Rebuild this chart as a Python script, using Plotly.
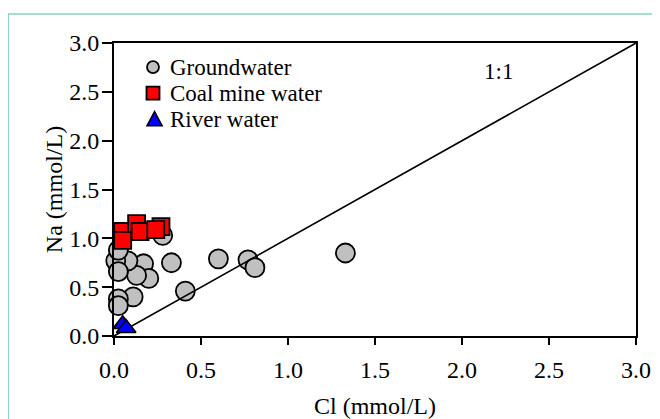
import plotly.graph_objects as go

# Groundwater (Cl, Na) mmol/L
gw_cl = [1.33, 0.60, 0.77, 0.81, 0.41, 0.33, 0.28, 0.17, 0.20, 0.13, 0.08, 0.01, 0.025, 0.11, 0.025, 0.025, 0.025]
gw_na = [0.85, 0.79, 0.78, 0.70, 0.46, 0.75, 1.03, 0.74, 0.59, 0.62, 0.77, 0.77, 0.66, 0.40, 0.38, 0.31, 0.88]
# Coal mine water
cm_cl = [0.05, 0.05, 0.13, 0.15, 0.27, 0.24]
cm_na = [1.07, 0.98, 1.15, 1.07, 1.12, 1.09]
# River water
rv_cl = [0.05, 0.07]
rv_na = [0.12, 0.08]
# 1:1 line
line_x = [0, 3]
line_y = [0, 3]

ticks = [0, 0.5, 1.0, 1.5, 2.0, 2.5, 3.0]
tick_text = ["0.0", "0.5", "1.0", "1.5", "2.0", "2.5", "3.0"]
legend_names = ["Groundwater", "Coal mine water", "River water"]

FONT = "Times New Roman, Liberation Serif, serif"

fig = go.Figure()
fig.add_trace(go.Scatter(x=gw_cl, y=gw_na, mode="markers", name=legend_names[0],
                         marker=dict(symbol="circle", size=19, color="#c0c0c0",
                                     line=dict(color="black", width=1.8)),
                         cliponaxis=False))
fig.add_trace(go.Scatter(x=line_x, y=line_y, mode="lines", showlegend=False,
                         line=dict(color="black", width=1.6)))
fig.add_trace(go.Scatter(x=cm_cl, y=cm_na, mode="markers", name=legend_names[1],
                         marker=dict(symbol="square", size=17, color="#ff0000",
                                     line=dict(color="black", width=1.8)),
                         cliponaxis=False))
fig.add_trace(go.Scatter(x=rv_cl, y=rv_na, mode="markers", name=legend_names[2],
                         marker=dict(symbol="triangle-up", size=17, color="#0000ff",
                                     line=dict(color="black", width=1.5)),
                         cliponaxis=False))

axis_common = dict(range=[0, 3], tickvals=ticks, ticktext=tick_text, showgrid=False,
                   zeroline=False, showline=True, linecolor="black", linewidth=2,
                   mirror=True, ticks="outside", tickcolor="black", tickwidth=1.5,
                   automargin=False,
                   tickfont=dict(family=FONT, size=24, color="black"))

fig.update_xaxes(**axis_common, ticklen=7, ticklabelstandoff=4,
                 title=dict(text="Cl (mmol/L)", font=dict(family=FONT, size=24, color="black"), standoff=18))
fig.update_yaxes(**axis_common, ticklen=10, ticklabelstandoff=-2,
                 title=dict(text="Na (mmol/L)", font=dict(family=FONT, size=24, color="black"), standoff=0))

fig.add_annotation(x=2.21, y=2.71, text="1:1", showarrow=False,
                   font=dict(family=FONT, size=23, color="black"))

# outer teal frame (cropped at right/bottom)
fig.add_shape(type="rect", xref="paper", yref="paper", x0=-0.203, x1=1.2, y0=-0.6, y1=1.099,
              line=dict(color="#4cbca8", width=1.2), layer="below")

# manual legend
lx = 0.0747
ly = [0.918, 0.829, 0.740]
fig.add_shape(type="circle", xref="paper", yref="paper", xsizemode="pixel", ysizemode="pixel",
              xanchor=lx, yanchor=ly[0], x0=-6, x1=6, y0=-6, y1=6,
              fillcolor="#c0c0c0", line=dict(color="black", width=1.8))
fig.add_shape(type="rect", xref="paper", yref="paper", xsizemode="pixel", ysizemode="pixel",
              xanchor=lx, yanchor=ly[1], x0=-6.5, x1=6.5, y0=-6.5, y1=6.5,
              fillcolor="#ff0000", line=dict(color="black", width=1.8))
fig.add_shape(type="path", xref="paper", yref="paper", xsizemode="pixel", ysizemode="pixel",
              xanchor=lx + 0.003, yanchor=ly[2], path="M -7.5 -6.5 L 7.5 -6.5 L 0 7.5 Z",
              fillcolor="#0000ff", line=dict(color="black", width=1.6))
for name, yy in zip(legend_names, ly):
    fig.add_annotation(xref="paper", yref="paper", x=0.1034, y=yy, xanchor="left", yanchor="middle",
                       text=name, showarrow=False, font=dict(family=FONT, size=23, color="black"))

fig.update_layout(
    width=652, height=411,
    margin=dict(l=106, r=24, t=35, b=83),
    paper_bgcolor="white", plot_bgcolor="white",
    showlegend=False,
)

fig.write_html("out.html")
